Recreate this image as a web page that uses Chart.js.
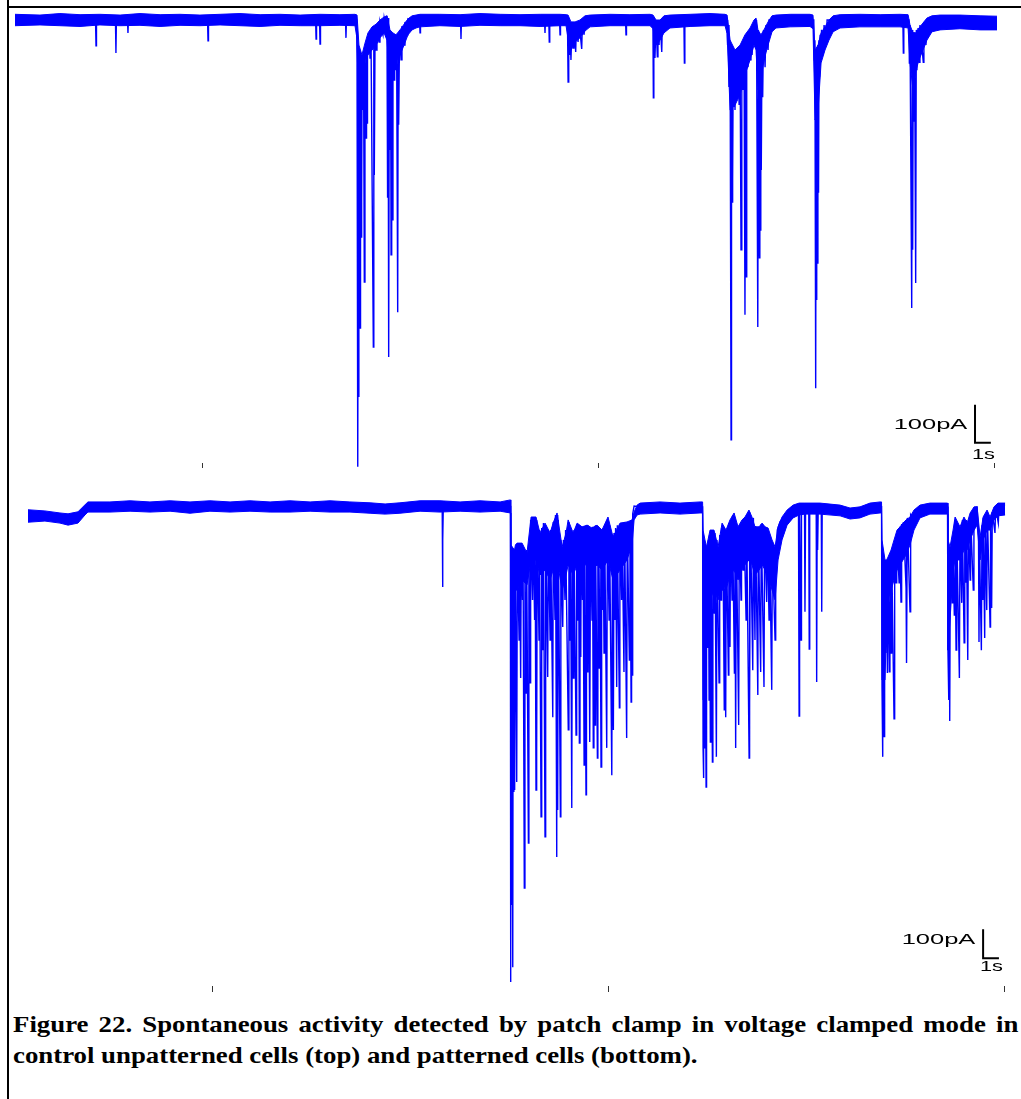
<!DOCTYPE html>
<html><head><meta charset="utf-8">
<script src="https://cdn.jsdelivr.net/npm/chart.js@4.4.1/dist/chart.umd.min.js"></script>
<style>
html,body{margin:0;padding:0;background:#fff;}
body{width:1021px;height:1099px;position:relative;overflow:hidden;}
.panel{position:absolute;left:0;width:1021px;}
#topWrap{top:0;height:480px;}
#botWrap{top:480px;height:520px;}
.frameL{position:absolute;left:7px;top:0;width:2px;height:1099px;background:#000;z-index:5}
.frameT{position:absolute;left:7px;top:6px;width:1014px;height:2px;background:#000;z-index:5}
.sb{position:absolute;font-family:"Liberation Sans",Arial,sans-serif;font-size:15px;line-height:15px;color:#000;white-space:nowrap;}
.sbv{transform-origin:right center;transform:scaleX(1.7);}
.sbh{transform-origin:left top;transform:scaleX(1.45);}
.cap{position:absolute;left:13px;width:900px;font-family:"Liberation Serif","Times New Roman",serif;font-weight:bold;font-size:24px;line-height:31px;color:#000;white-space:nowrap;transform-origin:left top;transform:scaleX(1.117);}
#cap1{top:1009px;text-align:justify;text-align-last:justify;}
#cap2{top:1040px;text-align:left;}
</style></head>
<body>
<div class="frameL"></div><div class="frameT"></div>
<div class="panel" id="topWrap"><canvas id="topChart"></canvas></div>
<div class="panel" id="botWrap"><canvas id="botChart"></canvas></div>
<div class="sb sbv" id="topV">100pA</div><div class="sb sbh" id="topH">1s</div>
<div class="sb sbv" id="botV">100pA</div><div class="sb sbh" id="botH">1s</div>
<div class="cap" id="cap1">Figure 22. Spontaneous activity detected by patch clamp in voltage clamped mode in</div>
<div class="cap" id="cap2">control unpatterned cells (top) and patterned cells (bottom).</div>
<script>
// ===== DATA (time in s, current in pA) =====
const TICK_TIMES = [11.82, 36.83, 61.9];
const BAR_TIME = 1;      // s
const BAR_CURRENT = 100; // pA
const BAR_LABELS = ['100pA', '1s'];

// Top trace: control unpatterned cells — noise band envelope
const topBandTime = [0,1.58,2.84,4.11,5.37,6.64,7.90,9.17,10.43,11.69,12.96,14.22,15.49,16.75,18.02,19.28,20.54,21.49,
 21.62,21.74,21.93,22.12,22.31,22.57,22.82,23.07,23.33,23.51,23.70,23.89,24.08,24.34,24.59,24.84,25.10,25.35,25.60,
 26.86,28.13,29.39,30.66,31.92,33.19,34.45,34.83,
 34.96,35.14,35.40,35.71,36.03,36.35,
 37.61,38.87,40.14,
 40.33,40.52,40.77,41.02,41.40,
 42.67,43.93,44.88,
 45.01,45.20,45.51,45.83,46.14,46.46,46.71,46.84,46.96,47.15,47.34,47.60,47.85,48.10,
 48.99,50.25,
 50.44,50.57,50.76,50.95,51.20,51.45,51.71,52.15,
 53.41,54.68,55.94,
 56.45,56.57,56.76,56.95,57.14,57.39,57.64,57.96,58.47,
 59.73,61.00,62.07];
const topBandUpper = [15,13,17,14,15,13,17,14,15,13,15,17,14,15,13,15,14,15,
 13,-66,-92,-61,-34,-18,-11,0,8,11,-26,-34,-39,-26,-11,3,11,13,15,
 15,14,17,15,14,15,15,14,
 13,-5,-5,0,11,13,
 15,14,15,
 13,0,0,11,13,
 15,17,15,
 13,-53,-79,-66,-39,-21,0,5,-26,-39,-26,-5,11,13,
 15,15,
 13,-79,-66,-34,-18,0,11,14,
 15,14,15,
 14,-13,-34,-34,-21,-8,5,11,13,
 13,11,10];
const topBandLower = [-15,-13,-15,-17,-13,-15,-14,-17,-14,-15,-13,-15,-17,-14,-15,-15,-14,-15,
 -50,-211,-184,-105,-92,-79,-66,-47,-34,-53,-158,-132,-110,-92,-66,-39,-26,-21,-18,
 -15,-17,-14,-15,-15,-17,-15,-15,
 -50,-79,-58,-47,-29,-18,
 -15,-15,-15,
 -23,-66,-53,-34,-21,
 -17,-15,-15,
 -36,-237,-224,-197,-145,-105,-66,-79,-184,-158,-105,-66,-31,-21,
 -18,-17,
 -23,-263,-237,-113,-79,-53,-31,-21,
 -18,-18,-18,
 -21,-113,-184,-132,-105,-79,-53,-31,-26,
 -23,-26,-26];

// Top trace: events (synaptic currents)
const topTime = [0,
 5.09,5.12,5.15, 6.35,6.38,6.41, 7.11,7.14,7.17, 12.17,12.20,12.23, 19.00,19.03,19.06, 19.25,19.28,19.31, 20.89,20.92,20.95,
 21.59,21.62,21.65,21.68,21.71,21.73,21.74,21.77,21.79,21.82,21.84,21.87,21.90,21.92,21.94,21.97,22.03,22.08,22.12,22.19,
 22.22,22.25,22.28,22.38,22.44,22.50,22.65,22.68,22.71,22.76,22.82,22.88,23.01,23.07,23.26,23.33,23.45,23.51,23.55,23.58,
 23.62,23.66,23.70,23.74,23.77,23.81,23.85,23.89,23.96,24.00,24.05,24.12,24.19,24.22,24.25,24.31,24.40,24.46,24.59,24.65,
 24.78,24.84,24.97,
 25.57,25.60,25.63, 28.16,28.19,28.22, 33.47,33.50,33.53, 33.74,33.77,33.80, 34.42,34.45,34.48,
 34.92,34.96,35.00,35.05,35.09,35.14,35.21,35.27,35.33,35.44,35.49,35.59,35.65,35.82,35.87,35.97,36.03,
 38.59,38.62,38.65,
 40.32,40.35,40.38,40.45,40.52,40.60,40.64,40.71,40.77,40.88,40.92,
 42.28,42.31,42.34,
 45.01,45.04,45.08,45.13,45.20,45.26,45.29,45.32,45.35,45.37,45.40,45.42,45.46,45.51,45.58,45.64,45.70,45.77,45.83,45.89,
 45.94,46.02,46.08,46.14,46.18,46.21,46.25,46.33,46.40,46.46,46.52,46.59,46.65,46.78,46.87,46.95,46.99,47.05,47.08,47.11,
 47.14,47.17,47.22,47.26,47.31,47.41,47.47,47.60,47.66,
 50.49,50.52,50.56,50.61,50.64,50.66,50.69,50.71,50.75,50.79,50.82,50.85,50.89,50.92,50.98,51.07,51.14,51.26,51.33,
 56.12,56.15,56.18,
 56.50,56.53,56.57,56.68,56.71,56.74,56.78,56.81,56.86,56.93,56.97,57.01,57.08,57.14,57.20,57.41,57.45,57.58,57.64,
 62.07];
const topCurrent = [0,
 0,-68,0, 0,-87,0, 0,-34,0, 0,-55,0, 0,-50,0, 0,-63,0, 0,-47,0,
 0,-111,-66,-1176,-79,-992,-92,-737,-105,-811,-92,-571,-92,-474,-105,-237,-92,-690,-79,-311,
 -66,-271,-53,-39,-100,-26,-861,-26,-408,-21,-79,-11,-58,-5,-39,5,-26,11,-468,5,
 -887,-26,-342,-32,-618,-39,-526,-39,-158,-42,-132,-42,-769,-39,-276,-26,-105,-16,-66,-5,
 -39,3,0,
 0,-34,0, 0,-50,0, 0,-34,0, 0,-58,0, 0,-39,0,
 0,-163,-13,-92,-13,-105,-13,-74,-11,-84,-5,-58,-5,-76,0,-39,0,
 0,-39,0,
 0,-205,-5,-100,-5,-97,-3,-66,0,-84,0,
 0,-113,0,
 0,-66,-13,-176,-53,-1105,-66,-479,-79,-421,-92,-229,-92,-237,-92,-197,-92,-224,-79,-605,
 -79,-184,-66,-776,-66,-676,-53,-124,-32,-105,-21,-92,-11,-53,0,-808,-26,-626,-39,-553,
 -39,-395,-39,-203,-26,-124,-13,-79,0,
 0,-105,-53,-969,-79,-737,-79,-640,-66,-455,-53,-150,-39,-105,-26,-92,-13,-66,0,
 0,-87,0,
 0,-113,-13,-758,-26,-605,-32,-268,-32,-692,-26,-132,-21,-111,-13,-111,-5,-66,0,
 0];

// Bottom trace: patterned cells — noise band envelope
const botBandTime = [0.19,1.26,2.21,2.72,3.35,3.79,3.98,5.37,6.64,7.90,9.17,10.43,11.69,12.96,14.22,15.49,16.75,18.02,19.28,20.54,21.81,22.76,23.70,24.97,26.23,27.50,28.76,30.03,
 30.68,30.71,30.94,31.00,31.10,31.42,31.73,31.99,32.30,32.55,32.87,33.19,33.38,33.63,33.95,34.20,34.33,34.65,34.90,35.21,35.53,35.84,36.16,36.47,36.85,37.17,37.61,38.05,38.37,38.50,38.69,38.88,40.14,41.40,42.67,
 42.83,42.86,42.98,43.08,43.30,43.55,43.81,44.06,44.31,44.56,44.82,45.07,45.32,45.51,45.76,45.95,46.14,46.40,46.59,46.78,46.97,47.22,47.41,47.60,47.85,48.17,48.55,48.93,49.30,50.25,51.52,52.15,52.78,53.41,54.05,
 54.14,54.17,54.36,54.46,54.55,54.74,54.93,55.12,55.31,55.50,55.69,55.94,56.19,56.57,57.20,58.22,
 58.31,58.34,58.47,58.66,58.79,59.10,59.35,59.55,59.74,59.99,60.18,60.37,60.56,60.81,61.00,61.25,61.50,61.95];
const botBandUpper = [-13,-17,-24,-27,-20,4,14,14,18,14,18,14,18,14,18,14,18,14,18,14,11,7,11,18,18,14,18,14,
 21,-134,-152,-134,-128,-128,-162,-38,-38,-93,-59,-93,-59,-24,-141,-93,-48,-93,-59,-72,-66,-76,-66,-83,-38,-107,-59,-55,-48,-21,3,10,14,10,14,
 14,-83,-117,-141,-83,-83,-141,-59,-83,-48,-24,-72,-48,-38,-14,-38,-72,-72,-59,-72,-76,-117,-141,-72,-38,-14,3,10,10,10,3,-7,-3,10,14,
 14,-117,-186,-186,-176,-152,-117,-83,-72,-59,-48,-38,-14,3,10,10,
 10,-117,-141,-83,-38,-72,-38,-59,-24,-3,-3,-107,-38,-14,-38,-3,10,10];
const botBandLower = [-56,-52,-59,-66,-59,-31,-21,-21,-18,-21,-18,-25,-18,-21,-18,-21,-21,-18,-21,-21,-25,-28,-25,-18,-21,-18,-21,-18,
 -24,-634,-634,-290,-290,-255,-272,-186,-186,-238,-221,-255,-221,-186,-290,-238,-203,-238,-203,-203,-203,-221,-203,-221,-186,-255,-221,-186,-134,-48,-31,-28,-24,-28,-24,
 -24,-669,-669,-462,-324,-290,-324,-255,-290,-238,-221,-255,-221,-203,-186,-203,-238,-221,-203,-221,-238,-290,-324,-186,-117,-66,-41,-31,-28,-28,-34,-45,-41,-28,-24,
 -24,-600,-600,-393,-324,-290,-255,-221,-203,-186,-169,-134,-83,-41,-28,-28,
 -28,-497,-393,-221,-186,-186,-152,-152,-117,-83,-66,-186,-117,-83,-83,-48,-34,-31];

// Bottom trace: bursts of events
const botTime = [0.19,3.48,3.98,26.37,26.39,26.40,26.42,26.44,
 30.68,30.70,30.72,30.75,30.78,30.83,30.86,30.90,30.93,30.95,30.99,31.08,31.12,31.23,31.26,31.33,31.37,31.45,31.48,31.56,
 31.60,31.67,31.71,31.82,31.85,31.92,31.96,32.08,32.11,32.21,32.24,32.30,32.33,32.35,32.38,32.49,32.52,32.62,32.66,32.74,
 32.77,32.87,32.91,33.04,33.08,33.19,33.22,33.36,33.39,33.50,33.53,33.61,33.63,33.67,33.71,33.84,33.87,33.99,34.03,34.13,
 34.17,34.34,34.38,34.45,34.48,34.56,34.60,34.66,34.70,34.83,34.87,34.96,34.99,35.04,35.08,35.13,35.16,35.24,35.27,35.34,
 35.37,35.46,35.49,35.54,35.58,35.65,35.68,35.71,35.75,35.84,35.87,35.92,35.96,36.03,36.06,36.18,36.21,36.30,36.34,36.41,
 36.45,36.50,36.54,36.60,36.64,36.77,36.81,36.92,36.95,37.09,37.13,37.19,37.23,37.29,37.33,37.40,37.44,37.57,37.60,37.71,
 37.74,37.86,37.90,38.03,38.07,38.20,38.24,38.31,38.34,38.37,38.41,38.50,38.88,42.67,
 42.83,42.86,42.88,42.91,42.94,42.98,43.05,43.08,43.16,43.20,43.24,43.27,43.32,43.36,43.45,43.48,43.57,43.61,43.70,43.74,
 43.87,43.91,44.00,44.03,44.08,44.11,44.20,44.23,44.29,44.33,44.46,44.49,44.56,44.60,44.69,44.72,44.84,44.87,44.92,44.96,
 45.11,45.15,45.26,45.29,45.40,45.44,45.58,45.61,45.77,45.79,45.81,45.85,46.00,46.04,46.14,46.18,46.32,46.35,46.50,46.54,
 46.71,46.75,46.88,46.92,47.03,47.06,47.20,47.24,47.41,47.45,47.52,47.55,47.72,47.91,48.36,48.89,48.93,48.96,49.05,49.08,
 49.27,49.30,49.34,49.54,49.57,49.60,50.01,50.04,50.07,50.10,50.14,50.33,50.36,50.39,51.52,52.15,52.78,53.41,54.14,
 54.17,54.20,54.23,54.27,54.30,54.32,54.35,54.40,54.44,54.51,54.55,54.63,54.67,54.74,54.78,54.93,54.97,55.06,55.10,55.25,
 55.29,55.37,55.41,55.48,55.52,55.69,55.71,55.73,55.77,55.94,55.98,56.13,56.57,58.22,
 58.31,58.34,58.39,58.42,58.45,58.49,58.60,58.64,58.74,58.78,58.85,58.89,59.06,59.10,59.21,59.25,59.36,59.40,59.47,59.50,
 59.59,59.63,59.74,59.77,59.94,59.98,60.18,60.27,60.30,60.33,60.45,60.49,60.54,60.57,60.66,60.70,60.79,60.83,61.00,61.03,
 61.10,61.14,61.31,61.35,61.52,61.57,61.95];
const botCurrent = [-34,-38,-3,0,-117,-279,-117,0,
 0,-1641,-186,-1376,-186,-1590,-186,-986,-169,-979,-152,-952,-134,-462,-134,-593,-134,-324,-145,-1317,
 -159,-645,-152,-1162,-134,-610,-48,-324,-41,-393,-41,-979,-48,-865,-66,-462,-83,-1072,-76,-497,
 -59,-1141,-66,-590,-83,-462,-83,-728,-55,-393,-31,-1210,-31,-1048,-48,-1072,-117,-417,-117,-324,
 -83,-772,-55,-462,-76,-1041,-90,-593,-83,-790,-62,-393,-69,-817,-76,-521,-76,-324,-72,-893,
 -69,-996,-66,-572,-66,-324,-76,-814,-76,-393,-72,-834,-72,-755,-66,-869,-69,-559,-76,-900,
 -83,-359,-76,-507,-66,-834,-48,-393,-66,-928,-100,-772,-93,-393,-76,-624,-66,-696,-62,-324,
 -59,-572,-55,-800,-55,-531,-55,-676,-48,-583,-28,0,-3,-3,
 -3,-834,-938,-186,-834,-186,-969,-152,-490,-117,-669,-100,-814,-93,-883,-93,-369,-93,-865,-117,
 -610,-100,-324,-76,-290,-76,-703,-90,-728,-83,-583,-59,-486,-48,-324,-34,-576,-48,-834,-76,
 -755,-66,-324,-55,-221,-48,-393,-31,-869,-21,-686,-31,-566,-41,-462,-69,-652,-72,-572,-62,
 -624,-72,-331,-83,-393,-100,-634,-134,-462,-134,-179,-83,-55,-41,-14,3,-724,3,-462,3,
 3,-365,3,0,-493,0,0,-607,-14,-152,0,0,-365,0,-14,-24,-21,-7,-3,
 -624,-865,-393,-797,-186,-797,-186,-507,-203,-576,-186,-572,-169,-507,-152,-734,-117,-265,-93,-265,
 -72,-331,-62,-176,-55,-283,-48,-541,-41,-365,-31,-48,-7,-3,
 -3,-507,-669,-186,-741,-152,-334,-117,-376,-48,-497,-66,-593,-83,-334,-48,-472,-66,-265,-48,
 -531,-59,-255,-31,-290,-7,-3,-107,-469,-117,-497,-66,-324,-41,-455,-31,-359,-21,-417,-41,
 -352,-21,-93,-3,-59,3,3];

// ===== CHARTS =====
[[topBandTime,topBandUpper,topBandLower,'top band'],[topTime,topCurrent,null,'top trace'],
 [botBandTime,botBandUpper,botBandLower,'bottom band'],[botTime,botCurrent,null,'bottom trace']].forEach(a=>{
  if (a[0].length!==a[1].length || (a[2] && a[2].length!==a[0].length))
    throw new Error(a[3]+' length mismatch '+a[0].length+' '+a[1].length+' '+(a[2]?a[2].length:''));
});

const BLUE = '#0000ff';
const pts = (ts, vs) => ts.map((t, i) => ({x: t, y: vs[i]}));

const decorPlugin = {
  id: 'decor',
  afterDraw(chart, args, o) {
    const {ctx, chartArea} = chart;
    const x = chart.scales.x, y = chart.scales.y;
    const off = chart.canvas.parentNode.offsetTop;
    ctx.save();
    ctx.strokeStyle = '#333'; ctx.lineWidth = 1;
    TICK_TIMES.forEach(t => {
      const px = Math.round(x.getPixelForValue(t)) + 0.5;
      ctx.beginPath(); ctx.moveTo(px, chartArea.bottom); ctx.lineTo(px, chartArea.bottom + o.tickLen); ctx.stroke();
    });
    const x0 = x.getPixelForValue(o.t), x1 = x.getPixelForValue(o.t + BAR_TIME);
    const y0 = y.getPixelForValue(o.pA), y1 = y.getPixelForValue(o.pA + BAR_CURRENT);
    ctx.strokeStyle = '#000'; ctx.lineWidth = 2;
    ctx.beginPath(); ctx.moveTo(x0, y1); ctx.lineTo(x0, y0); ctx.lineTo(x1, y0); ctx.stroke();
    ctx.restore();
    const v = document.getElementById(o.vId), h = document.getElementById(o.hId);
    v.textContent = BAR_LABELS[0]; h.textContent = BAR_LABELS[1];
    v.style.right = (1021 - (x0 - 8)) + 'px';
    v.style.top = (off + (y0 + y1) / 2 - 8 + o.vShift) + 'px';
    h.style.left = (x0 - 3) + 'px';
    h.style.top = (off + y0 + o.hGap) + 'px';
  }
};

function makeChart(id, bT, bU, bL, tT, tC, yMin, yMax, pad, deco) {
  return new Chart(document.getElementById(id), {
    type: 'line',
    data: { datasets: [
      {data: pts(bT, bU), borderColor: BLUE, backgroundColor: BLUE, borderWidth: 1, pointRadius: 0, fill: '+1', tension: 0},
      {data: pts(bT, bL), borderColor: BLUE, borderWidth: 1, pointRadius: 0, fill: false, tension: 0},
      {data: pts(tT, tC), borderColor: BLUE, borderWidth: 1.4, pointRadius: 0, fill: false, tension: 0, clip: false}
    ]},
    options: {
      responsive: true, maintainAspectRatio: false, animation: false, events: [],
      layout: {padding: pad},
      plugins: {legend: {display: false}, tooltip: {enabled: false}, decor: deco},
      scales: {
        x: {type: 'linear', min: 0, max: 62.07, display: false},
        y: {type: 'linear', min: yMin, max: yMax, display: false}
      }
    },
    plugins: [decorPlugin]
  });
}

makeChart('topChart', topBandTime, topBandUpper, topBandLower, topTime, topCurrent, -1166, 31.6,
  {left: 15, right: 24, top: 8, bottom: 17},
  {tickLen: 5, t: 60.68, pA: -1113, vId: 'topV', hId: 'topH', hGap: 3, vShift: 0});
makeChart('botChart', botBandTime, botBandUpper, botBandLower, botTime, botCurrent, -1655, 37.9,
  {left: 25, right: 14, top: 15, bottom: 14},
  {tickLen: 6, t: 60.56, pA: -1559, vId: 'botV', hId: 'botH', hGap: 0, vShift: -5});
</script>
</body></html>
